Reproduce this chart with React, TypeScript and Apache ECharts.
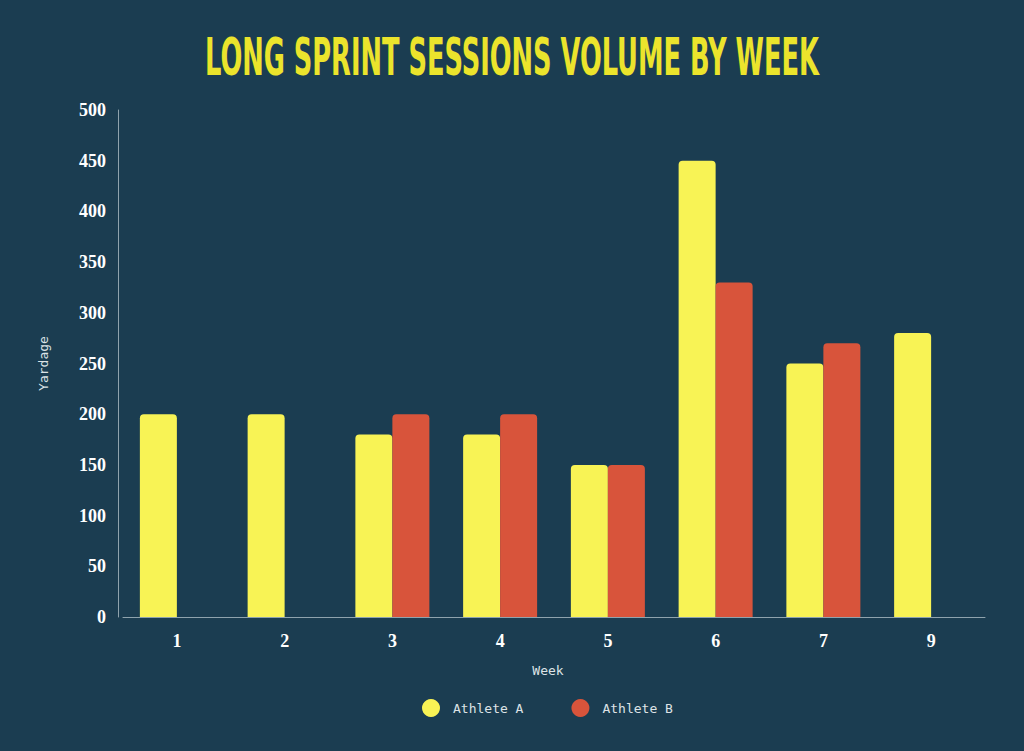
import React, { useEffect, useRef } from "react";
import * as echarts from "echarts";

const weeks = ["1", "2", "3", "4", "5", "6", "7", "9"];
const athleteA = [200, 200, 180, 180, 150, 450, 250, 280];
const athleteB = [null, null, 200, 200, 150, 330, 270, null];
const yTicks = { min: 0, max: 500, interval: 50 };
const title = "LONG SPRINT SESSIONS VOLUME BY WEEK";

const BG = "#1b3d51";
const YELLOW = "#f8f355";
const RED = "#d8543b";
const AXIS = "#8fa3ad";

export default function App() {
  const ref = useRef<HTMLDivElement>(null);
  useEffect(() => {
    document.body.style.margin = "0";
    document.body.style.background = BG;
    const chart = echarts.init(ref.current!, null, { renderer: "svg" });
    chart.setOption({
      animation: false,
      backgroundColor: BG,
      graphic: [
        {
          type: "text",
          x: 512,
          y: 58,
          scaleX: 0.56,
          style: {
            text: title,
            fill: "#ebe42c",
            font: "bold 51px 'DejaVu Sans Condensed', 'DejaVu Sans', sans-serif",
            textAlign: "center",
            textVerticalAlign: "middle",
          },
        },
      ],
      grid: { left: 123, right: 1024 - 985, top: 110, bottom: 751 - 617 },
      legend: {
        bottom: 29,
        left: 417,
        icon: "circle",
        itemWidth: 18,
        itemHeight: 18,
        itemGap: 48,
        textStyle: { color: "#dde3e6", fontFamily: "'DejaVu Sans Mono', monospace", fontSize: 13, padding: [0, 0, 0, 8] },
        data: ["Athlete A", "Athlete B"],
      },
      xAxis: {
        type: "category",
        data: weeks,
        name: "Week",
        nameLocation: "middle",
        nameGap: 47,
        nameTextStyle: { color: "#dde3e6", fontFamily: "'DejaVu Sans Mono', monospace", fontSize: 13, padding: [0, 12, 0, 0] },
        axisLine: { lineStyle: { color: AXIS, width: 1 } },
        axisTick: { show: false },
        axisLabel: { color: "#ffffff", fontFamily: "'Liberation Serif', serif", fontWeight: "bold", fontSize: 18, margin: 15 },
      },
      yAxis: {
        type: "value",
        min: yTicks.min,
        max: yTicks.max,
        interval: yTicks.interval,
        offset: 5,
        name: "Yardage",
        nameLocation: "middle",
        nameGap: 68,
        nameTextStyle: { color: "#dde3e6", fontFamily: "'DejaVu Sans Mono', monospace", fontSize: 13 },
        axisLine: { show: true, lineStyle: { color: AXIS, width: 1 } },
        axisTick: { show: false },
        splitLine: { show: false },
        axisLabel: { color: "#ffffff", fontFamily: "'Liberation Serif', serif", fontWeight: "bold", fontSize: 18, margin: 12 },
      },
      series: [
        {
          name: "Athlete A",
          type: "bar",
          data: athleteA,
          barWidth: 37,
          barGap: "0%",
          itemStyle: { color: YELLOW, borderRadius: [4, 4, 0, 0] },
        },
        {
          name: "Athlete B",
          type: "bar",
          data: athleteB,
          barWidth: 37,
          barGap: "0%",
          itemStyle: { color: RED, borderRadius: [4, 4, 0, 0] },
        },
      ],
    });
    return () => chart.dispose();
  }, []);
  return <div ref={ref} style={{ width: 1024, height: 751 }} />;
}
